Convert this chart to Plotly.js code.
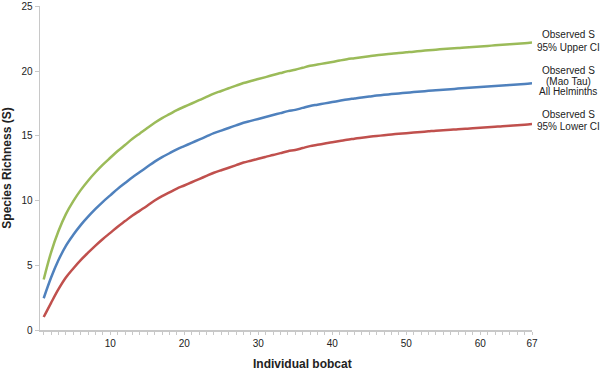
<!DOCTYPE html>
<html>
<head>
<meta charset="utf-8">
<script src="https://cdn.plot.ly/plotly-3.0.1.min.js"></script>
<style>html,body{margin:0;padding:0;background:#fff;}#chart{width:600px;height:370px;}</style>
</head>
<body>
<div id="chart"></div>
<script>
// Individual bobcats sampled (x)
var bobcats = [];
for (var i = 1; i <= 67; i++) bobcats.push(i);

// Observed S (Mao Tau), all helminths
var maoTau = [2.45,4.05,5.40,6.50,7.35,8.10,8.75,9.35,9.90,10.40,
  10.90,11.35,11.80,12.20,12.60,13.00,13.35,13.65,13.95,14.20,
  14.45,14.70,14.95,15.20,15.40,15.60,15.80,16.00,16.15,16.30,
  16.45,16.60,16.75,16.90,17.00,17.15,17.30,17.40,17.50,17.60,
  17.70,17.80,17.88,17.96,18.03,18.10,18.16,18.22,18.27,18.32,
  18.37,18.42,18.47,18.52,18.56,18.60,18.64,18.68,18.72,18.76,
  18.80,18.84,18.88,18.92,18.96,19.00,19.05];

// Observed S, 95% upper CI
var upperCI = [3.90,6.00,7.65,8.95,9.95,10.80,11.53,12.18,12.77,13.30,
  13.82,14.29,14.76,15.18,15.60,16.00,16.36,16.67,16.98,17.24,
  17.49,17.75,18.00,18.26,18.46,18.67,18.87,19.07,19.23,19.38,
  19.53,19.69,19.84,19.99,20.10,20.25,20.40,20.50,20.60,20.70,
  20.81,20.91,20.99,21.07,21.14,21.22,21.28,21.34,21.39,21.44,
  21.49,21.55,21.60,21.65,21.69,21.73,21.77,21.82,21.86,21.90,
  21.94,21.98,22.02,22.07,22.11,22.15,22.20];

// Observed S, 95% lower CI
var lowerCI = [1.00,2.10,3.15,4.05,4.75,5.40,5.97,6.52,7.03,7.50,
  7.98,8.41,8.84,9.22,9.60,10.00,10.34,10.63,10.92,11.16,
  11.41,11.65,11.90,12.14,12.34,12.53,12.73,12.93,13.07,13.22,
  13.37,13.51,13.66,13.81,13.90,14.05,14.20,14.30,14.40,14.50,
  14.59,14.69,14.77,14.85,14.92,14.98,15.04,15.10,15.15,15.20,
  15.25,15.29,15.34,15.39,15.43,15.47,15.51,15.54,15.58,15.62,
  15.66,15.70,15.74,15.77,15.81,15.85,15.90];

var xTickVals = [10,20,30,40,50,60,67];
var yTickVals = [0,5,10,15,20,25];

var labelLines = [
  ["Observed S", 35], ["95% Upper CI", 47],
  ["Observed S", 70], ["(Mao Tau)", 81], ["All Helminths", 92],
  ["Observed S", 114], ["95% Lower CI", 126]
];

var FONT = "Liberation Sans, Arial, sans-serif";
var traces = [
  {x: bobcats, y: upperCI, name: "95% Upper CI", mode: "lines", line: {color: "#9BBB59", width: 2.5, shape: "spline", smoothing: 1}},
  {x: bobcats, y: maoTau, name: "Mao Tau", mode: "lines", line: {color: "#4F81BD", width: 2.5, shape: "spline", smoothing: 1}},
  {x: bobcats, y: lowerCI, name: "95% Lower CI", mode: "lines", line: {color: "#C0504D", width: 2.5, shape: "spline", smoothing: 1}}
];

var L = 40, R = 68, T = 6, B = 40, W = 600, H = 370;
var plotW = W - L - R, plotH = H - T - B;
function px2paperY(p){ return (H - B - p) / plotH; }
function px2paperX(p){ return (p - L) / plotW; }

var annotations = labelLines.map(function(l){
  return {text: l[0], xref: "paper", yref: "paper", x: px2paperX(568), y: px2paperY(l[1]),
    xanchor: "center", yanchor: "middle", showarrow: false,
    font: {family: FONT, size: 10, color: "#222"}};
});
annotations.push({text: "<b>Individual bobcat</b>", xref: "paper", yref: "paper",
  x: px2paperX(302), y: px2paperY(364), xanchor: "center", yanchor: "middle", showarrow: false,
  font: {family: FONT, size: 12, color: "#222"}});

var layout = {
  width: W, height: H,
  margin: {l: L, r: R, t: T, b: B, pad: 0},
  paper_bgcolor: "#fff", plot_bgcolor: "#fff",
  showlegend: false,
  font: {family: FONT, size: 10, color: "#222"},
  xaxis: {
    range: [0.5, 67], tickmode: "array", tickvals: xTickVals,
    ticks: "outside", ticklen: 3, tickcolor: "#c8c8c8", tickwidth: 1,
    showline: true, linecolor: "#c8c8c8", linewidth: 1.5, showgrid: false, zeroline: false,
    tickfont: {family: FONT, size: 10, color: "#222"},
    minor: {ticks: "outside", ticklen: 3, tickcolor: "#c8c8c8", tickmode: "linear", tick0: 0, dtick: 1}
  },
  yaxis: {
    range: [0, 25.02], tickmode: "array", tickvals: yTickVals,
    ticks: "outside", ticklen: 4, tickcolor: "#c8c8c8", ticklabeloverflow: "allow",
    showline: true, linecolor: "#c8c8c8", linewidth: 1.5, showgrid: false, zeroline: false,
    tickfont: {family: FONT, size: 10, color: "#222"},
    title: {text: "<b>Species Richness (S)</b>", font: {family: FONT, size: 12, color: "#222"}, standoff: 10}
  },
  annotations: annotations
};

Plotly.newPlot("chart", traces, layout, {displayModeBar: false, staticPlot: true});
</script>
</body>
</html>
